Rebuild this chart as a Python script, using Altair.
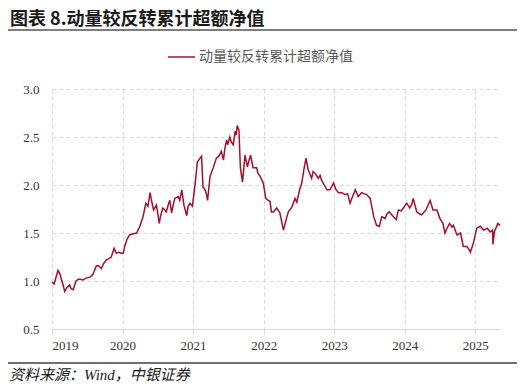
import altair as alt
import pandas as pd

years = [
    2019.00, 2019.03, 2019.05, 2019.085, 2019.11, 2019.14, 2019.16, 2019.18, 2019.21, 2019.25,
    2019.27, 2019.30, 2019.34, 2019.38, 2019.44, 2019.48, 2019.54, 2019.58, 2019.63, 2019.66,
    2019.70, 2019.73, 2019.77, 2019.80, 2019.84, 2019.88, 2019.91, 2019.95, 2019.975, 2020.01,
    2020.03, 2020.06, 2020.10, 2020.14, 2020.20, 2020.245, 2020.29, 2020.33, 2020.36, 2020.39,
    2020.41, 2020.44, 2020.48, 2020.50, 2020.52, 2020.54, 2020.57, 2020.60, 2020.62, 2020.65,
    2020.67, 2020.695, 2020.72, 2020.74, 2020.79, 2020.81, 2020.84, 2020.87, 2020.91, 2020.93,
    2020.955, 2020.99, 2021.03, 2021.06, 2021.10, 2021.12, 2021.14, 2021.17, 2021.19, 2021.205,
    2021.24, 2021.285, 2021.33, 2021.365, 2021.40, 2021.43, 2021.45, 2021.475, 2021.49, 2021.52,
    2021.54, 2021.57, 2021.595, 2021.61, 2021.625, 2021.65, 2021.67, 2021.70, 2021.735, 2021.77,
    2021.79, 2021.815, 2021.85, 2021.90, 2021.92, 2021.95, 2021.995, 2022.03, 2022.065, 2022.09,
    2022.11, 2022.14, 2022.185, 2022.23, 2022.28, 2022.33, 2022.35, 2022.40, 2022.445, 2022.47,
    2022.51, 2022.54, 2022.57, 2022.60, 2022.63, 2022.68, 2022.70, 2022.73, 2022.775, 2022.80,
    2022.82, 2022.86, 2022.895, 2022.94, 2022.99, 2023.02, 2023.06, 2023.11, 2023.155, 2023.19,
    2023.225, 2023.26, 2023.30, 2023.34, 2023.39, 2023.42, 2023.46, 2023.51, 2023.56, 2023.60,
    2023.64, 2023.675, 2023.72, 2023.75, 2023.78, 2023.84, 2023.88, 2023.91, 2023.95, 2023.98,
    2024.01, 2024.03, 2024.07, 2024.10, 2024.12, 2024.17, 2024.205, 2024.24, 2024.30, 2024.36,
    2024.40, 2024.455, 2024.50, 2024.54, 2024.57, 2024.60, 2024.635, 2024.67, 2024.69, 2024.74,
    2024.79, 2024.83, 2024.88, 2024.91, 2024.93, 2024.975, 2025.02, 2025.07, 2025.12, 2025.17,
    2025.21, 2025.245, 2025.25, 2025.27, 2025.32, 2025.35,
]
values = [
    0.99, 0.97, 1.02, 1.11, 1.08, 1.00, 0.95, 0.89, 0.93, 0.96,
    0.92, 0.91, 1.00, 1.02, 1.01, 1.03, 1.04, 1.07, 1.16, 1.16,
    1.13, 1.18, 1.22, 1.23, 1.25, 1.34, 1.29, 1.30, 1.29, 1.29,
    1.36, 1.43, 1.48, 1.49, 1.50, 1.57, 1.67, 1.81, 1.78, 1.92,
    1.84, 1.74, 1.79, 1.70, 1.60, 1.68, 1.76, 1.74, 1.72, 1.80,
    1.84, 1.71, 1.80, 1.86, 1.88, 1.84, 1.95, 1.79, 1.68, 1.78,
    1.81, 1.78, 2.02, 2.24, 2.28, 2.30, 1.98, 1.95, 1.90, 1.84,
    2.09, 2.18, 2.28, 2.30, 2.35, 2.26, 2.38, 2.47, 2.42, 2.50,
    2.45, 2.42, 2.56, 2.52, 2.62, 2.57, 2.18, 2.03, 2.31, 2.19,
    2.25, 2.31, 2.18, 2.18, 2.12, 2.09, 2.02, 1.86, 1.84, 1.83,
    1.72, 1.72, 1.76, 1.71, 1.53, 1.67, 1.72, 1.77, 1.86, 1.82,
    1.95, 2.02, 2.16, 2.28, 2.16, 2.07, 2.14, 2.12, 2.07, 2.10,
    2.05, 2.00, 1.95, 1.95, 2.02, 1.96, 1.92, 1.92, 1.90, 1.91,
    1.81, 1.88, 1.95, 1.88, 1.92, 1.91, 1.90, 1.86, 1.67, 1.58,
    1.57, 1.67, 1.65, 1.70, 1.72, 1.67, 1.64, 1.74, 1.73, 1.76,
    1.79, 1.81, 1.76, 1.80, 1.86, 1.72, 1.70, 1.69, 1.74, 1.84,
    1.74, 1.74, 1.65, 1.60, 1.50, 1.55, 1.60, 1.56, 1.58, 1.48,
    1.50, 1.36, 1.36, 1.33, 1.30, 1.40, 1.55, 1.57, 1.53, 1.55,
    1.51, 1.53, 1.38, 1.51, 1.60, 1.58,
]
year_ticks = [2019, 2020, 2021, 2022, 2023, 2024, 2025]
y_ticks = [0.5, 1.0, 1.5, 2.0, 2.5, 3.0]

title_text = "图表 8.动量较反转累计超额净值"
legend_text = "动量较反转累计超额净值"
source_text = "资料来源：Wind，中银证券"

df = pd.DataFrame({"year": years, "value": values})

RED = "#A50F2D"
CJK = "Noto Sans CJK SC"
SERIF = "Liberation Serif"

line = alt.Chart(df).mark_line(color=RED, strokeWidth=1.5).encode(
    x=alt.X(
        "year:Q",
        scale=alt.Scale(domain=[2019, 2025.35], nice=False, zero=False),
        axis=alt.Axis(
            values=year_ticks, format="d", title=None, grid=True,
            gridDash=[4, 3], gridColor="#d9d9d9", domainColor="#d9d9d9",
            tickColor="#d9d9d9", tickSize=5, labelPadding=5,
            labelFont=SERIF, labelFontSize=13, labelColor="#333333",
        ),
    ),
    y=alt.Y(
        "value:Q",
        scale=alt.Scale(domain=[0.5, 3.0], nice=False, zero=False),
        axis=alt.Axis(
            values=y_ticks, format=".1f", title=None, grid=True,
            gridDash=[4, 3], gridColor="#d9d9d9", domain=False, ticks=False,
            labelPadding=13, labelFont=SERIF, labelFontSize=13, labelColor="#333333",
        ),
    ),
)

title = alt.Chart().mark_text(
    text=title_text, font=CJK, fontSize=18, fontWeight="bold", align="left",
    baseline="top", color="#1a1a1a",
).encode(x=alt.value(-42), y=alt.value(-78))

title_rule = alt.Chart().mark_rule(color="#7f7f7f", strokeWidth=2).encode(
    x=alt.value(-44), x2=alt.value(465), y=alt.value(-59)
)

legend_rule = alt.Chart().mark_rule(color=RED, strokeWidth=1.5).encode(
    x=alt.value(116), x2=alt.value(143), y=alt.value(-32)
)
legend_label = alt.Chart().mark_text(
    text=legend_text, font=CJK, fontSize=14, align="left", baseline="middle",
    color="#595959",
).encode(x=alt.value(147), y=alt.value(-32))

bottom_rule = alt.Chart().mark_rule(color="#404040", strokeWidth=1.5).encode(
    x=alt.value(-44), x2=alt.value(465), y=alt.value(274)
)
source = alt.Chart().mark_text(
    text=source_text, font=f"{SERIF}, {CJK}", fontSize=15, fontStyle="italic",
    align="left", baseline="middle", color="#1a1a1a",
).encode(x=alt.value(-43), y=alt.value(286))

chart = alt.layer(
    line, title, title_rule, legend_rule, legend_label, bottom_rule, source
).properties(
    width=448, height=240,
    padding={"left": 44, "top": 81, "right": 20, "bottom": 62},
    autosize=alt.AutoSizeParams(type="none"),
).configure_view(stroke=None)

chart.save("out.html", embed_options={"renderer": "svg", "actions": False})
